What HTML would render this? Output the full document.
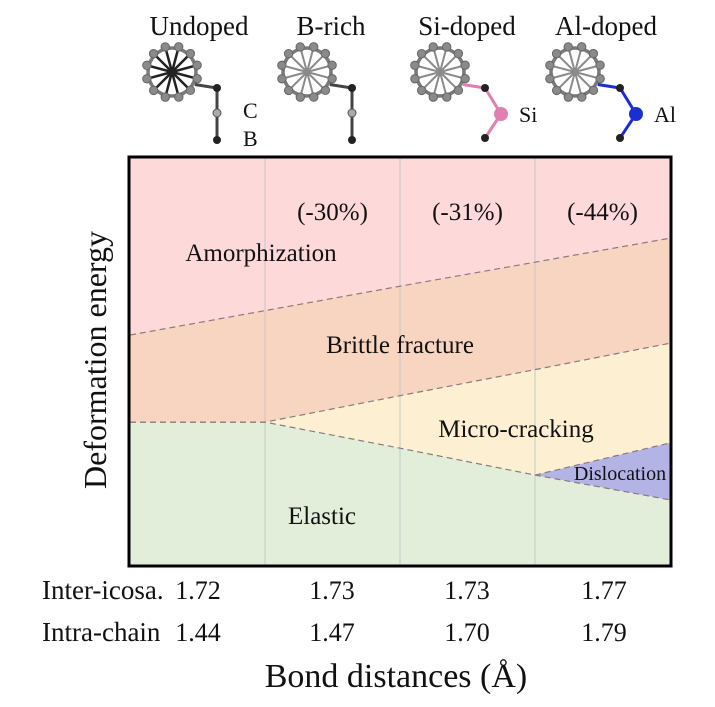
<!DOCTYPE html>
<html><head><meta charset="utf-8"><style>
body{margin:0;background:#fff;}
svg text{font-family:"Liberation Serif",serif;fill:#111;}
</style></head><body>
<svg id="c" width="715" height="702" xmlns="http://www.w3.org/2000/svg"></svg>
<script>
const categories=["Undoped","B-rich","Si-doped","Al-doped"];
const interIcosa=["1.72","1.73","1.73","1.77"];
const intraChain=["1.44","1.47","1.70","1.79"];
const reductions=["","(-30%)","(-31%)","(-44%)"];
const amorphBoundary=[56.5,62.5,68.5,74.4,80.3];
const brittleBoundary=[35.1,35.1,41.6,48.0,54.5];
const elasticBoundary=[35.1,35.1,28.7,22.1,16.0];
const dislocationBoundary=[null,null,null,22.1,30.0];
const NS="http://www.w3.org/2000/svg";
const svg=document.getElementById('c');
const L=130,R=670,T=158,B=565;
const xs=i=>L+(R-L)*i/4;
const ys=v=>B-(B-T)*v/100;
function mk(t,a){const e=document.createElementNS(NS,t);for(const k in a)e.setAttribute(k,a[k]);svg.appendChild(e);return e;}
function pts(arr,from,to){const p=[];for(let i=from;i<=to;i++)p.push(xs(i)+','+ys(arr[i]));return p;}
let e;
e=mk('rect',{x:L,y:T,width:R-L,height:B-T,fill:'#fdd9d9'});

e=mk('polygon',{points:[...pts(amorphBoundary,0,4),...pts(brittleBoundary,0,4).reverse()].join(' '),fill:'#f7d5c0'});

e=mk('polygon',{points:[...pts(brittleBoundary,1,4),...pts(elasticBoundary,1,4).reverse()].join(' '),fill:'#fdf0d2'});

e=mk('polygon',{points:[...pts(elasticBoundary,0,4),xs(4)+','+B,xs(0)+','+B].join(' '),fill:'#e2eed9'});

e=mk('polygon',{points:[...pts(dislocationBoundary,3,4),...pts(elasticBoundary,3,4).reverse()].join(' '),fill:'#b3b3e6'});

for(let i=1;i<4;i++){e=mk('line',{x1:xs(i),x2:xs(i),y1:T,y2:B,stroke:'#c8c8c8','stroke-width':1});
}
[[amorphBoundary,0],[brittleBoundary,0],[elasticBoundary,0],[dislocationBoundary,3]].forEach(([a,f])=>{
e=mk('polyline',{points:pts(a,f,4).join(' '),fill:'none',stroke:'#8a7a80','stroke-width':1.2,'stroke-dasharray':'6,4'});
});
e=mk('rect',{x:L-1,y:T-1,width:R-L+2,height:B-T+2,fill:'none',stroke:'#000','stroke-width':3});

function txt(s,x,y,size,name,anchor){const t=mk('text',{x:x,y:y,'font-size':size,'text-anchor':anchor||'middle'});t.textContent=s;
return t;}
txt('Amorphization',261,261,25,'amorphization-label');
txt('Brittle fracture',400,353,25,'brittle-fracture-label');
txt('Micro-cracking',516,437,25,'micro-cracking-label');
txt('Dislocation',620,480,20,'dislocation-label');
txt('Elastic',322,524,25,'elastic-label');
for(let i=1;i<4;i++)txt(reductions[i],xs(i)+0.5*(R-L)/4,220,25,'reduction-label');
const titleX=[199,331,467,606];
const ringC=[172,307,440,575];
for(let i=0;i<4;i++){
 txt(categories[i],titleX[i],35,27,'category-title');
 const cx=ringC[i],cy=72;
 const g=document.createElementNS(NS,'g');svg.appendChild(g);
 
 let h='';
 for(let k=0;k<12;k++){const a=k*Math.PI/6+0.26;const x=cx+26*Math.cos(a),y=cy+26*Math.sin(a);
  h+=`<line x1="${cx}" y1="${cy}" x2="${x}" y2="${y}" stroke="${i==0?'#222':'#8a8a8a'}" stroke-width="${i==0?2.5:2}"/>`;}
 h+=`<circle cx="${cx}" cy="${cy}" r="24" fill="none" stroke="#7a7a7a" stroke-width="3.5"/>`;
 for(let k=0;k<12;k++){const a=k*Math.PI/6+0.26;h+=`<circle cx="${cx+26*Math.cos(a)}" cy="${cy+26*Math.sin(a)}" r="4.2" fill="#8a8a8a" stroke="#666"/>`;}
 const ax=cx+26*Math.cos(0.5),ay=cy+26*Math.sin(0.5);
 const c1x=cx+45,c1y=cy+16;
 if(i<2){
  h+=`<polyline points="${ax},${ay} ${c1x},${c1y} ${c1x},${c1y+52}" fill="none" stroke="#444" stroke-width="3"/>`;
  h+=`<circle cx="${c1x}" cy="${c1y}" r="4" fill="#222"/><circle cx="${c1x}" cy="${c1y+25}" r="4" fill="#aaa" stroke="#555"/><circle cx="${c1x}" cy="${c1y+52}" r="4" fill="#222"/>`;
 } else {
  const col=i==2?'#e07fb0':'#1a2fd0';
  h+=`<polyline points="${ax},${ay} ${c1x},${c1y} ${c1x+16},${c1y+26} ${c1x},${c1y+50}" fill="none" stroke="${col}" stroke-width="3"/>`;
  h+=`<circle cx="${c1x}" cy="${c1y}" r="4" fill="#222"/><circle cx="${c1x+16}" cy="${c1y+26}" r="7" fill="${col}"/><circle cx="${c1x}" cy="${c1y+50}" r="4" fill="#222"/>`;
  h+=`<text x="${c1x+34}" y="${c1y+34}" font-size="22">${i==2?'Si':'Al'}</text>`;
 }
 if(i==0)h+=`<text x="${c1x+26}" y="${c1y+30}" font-size="22">C</text><text x="${c1x+26}" y="${c1y+58}" font-size="22">B</text>`;
 g.innerHTML=h;
}
txt('Inter-icosa.',42,599,27,'inter-icosa-row-label','start');
txt('Intra-chain',42,641,27,'intra-chain-row-label','start');
const valX=[198,332,467,604];
for(let i=0;i<4;i++){
 txt(interIcosa[i],valX[i],599,26,'inter-icosa-value');
 txt(intraChain[i],valX[i],641,26,'intra-chain-value');
}
txt('Bond distances (Å)',396,687,34,'x-axis-title');
const yt=txt('Deformation energy',0,0,32,'y-axis-title');
yt.setAttribute('transform','translate(106,360) rotate(-90)');
</script>
</body></html>
